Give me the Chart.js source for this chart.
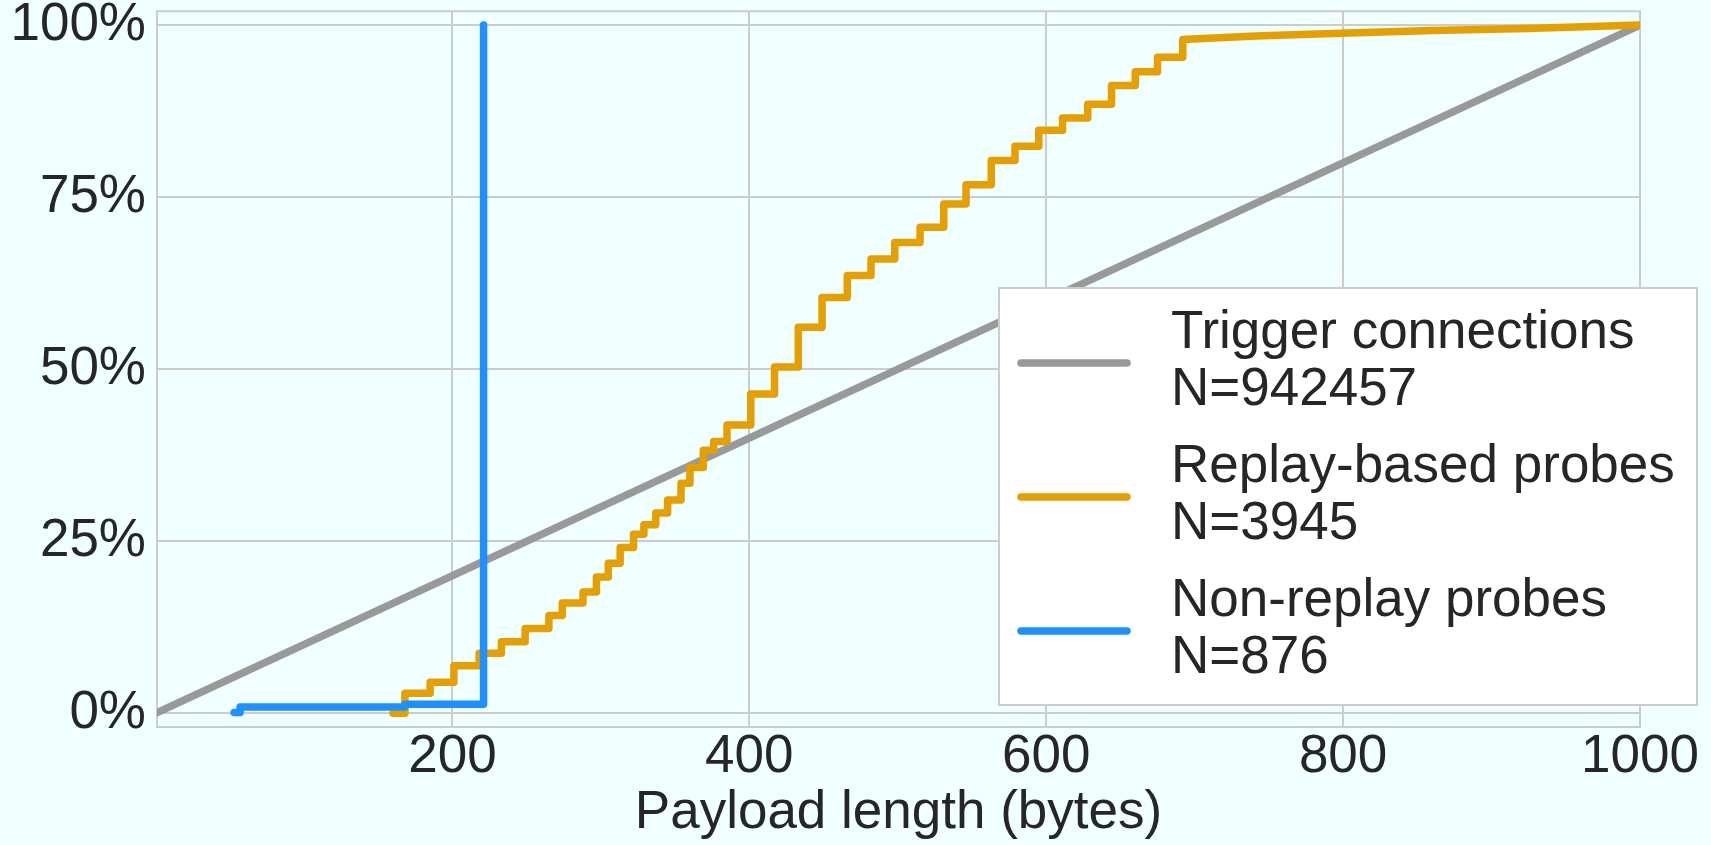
<!DOCTYPE html>
<html>
<head>
<meta charset="utf-8">
<script src="https://cdn.jsdelivr.net/npm/chart.js@4/dist/chart.umd.min.js"></script>
<style>
  html, body { margin: 0; padding: 0; background: #F0FFFF; }
  #wrap { width: 1711px; height: 845px; position: relative; }
</style>
</head>
<body>
<div id="wrap"><canvas id="cdfChart"></canvas></div>
<script>
// series names + sample sizes (legend)
const seriesNames = ['Trigger connections', 'Replay-based probes', 'Non-replay probes'];
const seriesCounts = ['N=942457', 'N=3945', 'N=876'];
const seriesColors = ['#999999', '#E69F00', '#1E90FF'];

// trigger connections: straight CDF
const triggerX = [0, 1000];
const triggerY = [0, 100];

// replay-based probes: step CDF (x = payload length, y = %)
const replayX = [160, 168, 185, 201, 218, 233, 249, 265, 274, 288,
                 297, 305, 313, 322, 329, 337, 345, 354, 360, 369,
                 376, 385, 401, 417, 433, 449, 466, 482, 498, 515,
                 531, 546, 563, 579, 595, 611, 628, 644, 660, 675,
                 692];
const replayY = [0, 2.9, 4.5, 6.9, 8.7, 10.4, 12.3, 14.2, 16.0, 17.6,
                 19.8, 21.8, 24.1, 26.0, 27.4, 29.1, 31.0, 33.4, 35.7, 38.2,
                 39.5, 41.9, 46.4, 50.3, 56.1, 60.4, 63.6, 66.0, 68.4, 70.6,
                 74.0, 76.8, 80.3, 82.4, 84.7, 86.5, 88.5, 91.2, 93.2, 95.3,
                 97.9];
// long flat-ish tail after the last step
const replayTailX = [741, 798, 860, 924, 1000];
const replayTailY = [98.4, 98.8, 99.2, 99.5, 100];

// non-replay probes
const nonReplayX = [53, 57, 168, 221];
const nonReplayY = [0.1, 0.9, 1.3, 100];

const xTicks = [200, 400, 600, 800, 1000];
const yTicks = [0, 25, 50, 75, 100];

const FONT = 'Liberation Sans';
const TEXT = '#262626';
const GRID = '#cccccc';

function toPoints(xs, ys) {
    return xs.map((x, i) => ({ x: x, y: ys[i] }));
}

// step corners: horizontal, then vertical jump at each x
function stepPoints(xs, ys) {
    const pts = [];
    xs.forEach((x, i) => {
        if (i > 0) pts.push({ x: x, y: ys[i - 1] });
        pts.push({ x: x, y: ys[i] });
    });
    return pts;
}

// background + frame around plot area
const framePlugin = {
    id: 'frame',
    beforeDraw(chart) {
        const c = chart.ctx;
        c.save();
        c.fillStyle = '#F0FFFF';
        c.fillRect(0, 0, chart.width, chart.height);
        c.restore();
    },
    beforeDatasetsDraw(chart) {
        const a = chart.chartArea;
        const c = chart.ctx;
        c.save();
        c.strokeStyle = GRID;
        c.lineWidth = 2;
        c.strokeRect(a.left, a.top, a.right - a.left, a.bottom - a.top);
        c.restore();
    }
};

// legend box with two-line labels
const legendPlugin = {
    id: 'boxLegend',
    afterDraw(chart) {
        const c = chart.ctx;
        c.save();
        c.fillStyle = '#ffffff';
        c.fillRect(999, 288, 698, 417);
        c.strokeStyle = GRID;
        c.lineWidth = 2;
        c.strokeRect(999, 288, 698, 417);
        c.font = '53px "' + FONT + '"';
        c.textBaseline = 'alphabetic';
        c.textAlign = 'left';
        chart.data.datasets.forEach((ds, i) => {
            const cy = 363 + i * 134;
            c.strokeStyle = ds.borderColor;
            c.lineWidth = 7.5;
            c.lineCap = 'round';
            c.beginPath();
            c.moveTo(1021, cy);
            c.lineTo(1127, cy);
            c.stroke();
            c.fillStyle = TEXT;
            c.fillText(seriesNames[i], 1171, cy - 15);
            c.fillText(seriesCounts[i], 1171, cy + 42);
        });
        c.restore();
    }
};

const ctx = document.getElementById('cdfChart').getContext('2d');

const data = {
    datasets: [
        {
            label: seriesNames[0],
            data: toPoints(triggerX, triggerY),
            borderColor: seriesColors[0],
            order: 3
        },
        {
            label: seriesNames[1],
            data: stepPoints(replayX, replayY).concat(toPoints(replayTailX, replayTailY)),
            borderColor: seriesColors[1],
            order: 2
        },
        {
            label: seriesNames[2],
            data: toPoints(nonReplayX, nonReplayY),
            borderColor: seriesColors[2],
            stepped: 'before',
            order: 1
        }
    ]
};

const config = {
    type: 'line',
    data: data,
    options: {
        responsive: true,
        maintainAspectRatio: false,
        animation: false,
        layout: {
            autoPadding: false,
            padding: { top: 11, right: 71, left: 0, bottom: 0 }
        },
        elements: {
            point: { radius: 0 },
            line: {
                borderWidth: 7.5,
                tension: 0,
                borderCapStyle: 'round',
                borderJoinStyle: 'round',
                fill: false
            }
        },
        plugins: {
            legend: { display: false },
            tooltip: { enabled: false }
        },
        scales: {
            x: {
                type: 'linear',
                min: 1,
                max: 1000,
                afterBuildTicks: (scale) => { scale.ticks = xTicks.map(v => ({ value: v })); },
                afterFit: (scale) => { scale.height = 118; },
                grid: { color: GRID, lineWidth: 2, drawTicks: false },
                border: { display: false },
                ticks: {
                    padding: 4,
                    color: TEXT,
                    font: { family: FONT, size: 53, lineHeight: 1 },
                    maxRotation: 0,
                    callback: (v) => String(v)
                },
                title: {
                    display: true,
                    text: 'Payload length (bytes)',
                    color: TEXT,
                    font: { family: FONT, size: 53, lineHeight: 1.2 },
                    padding: { top: 0, bottom: 0 }
                }
            },
            y: {
                type: 'linear',
                min: -2,
                max: 102,
                afterBuildTicks: (scale) => { scale.ticks = yTicks.map(v => ({ value: v })); },
                afterFit: (scale) => { scale.width = 157; },
                grid: { color: GRID, lineWidth: 2, drawTicks: false },
                border: { display: false },
                ticks: {
                    padding: 11,
                    color: TEXT,
                    font: { family: FONT, size: 53, lineHeight: 0.01 },
                    callback: (v) => v + '%'
                }
            }
        }
    },
    plugins: [framePlugin, legendPlugin]
};

const cdfChart = new Chart(ctx, config);
</script>
</body>
</html>
